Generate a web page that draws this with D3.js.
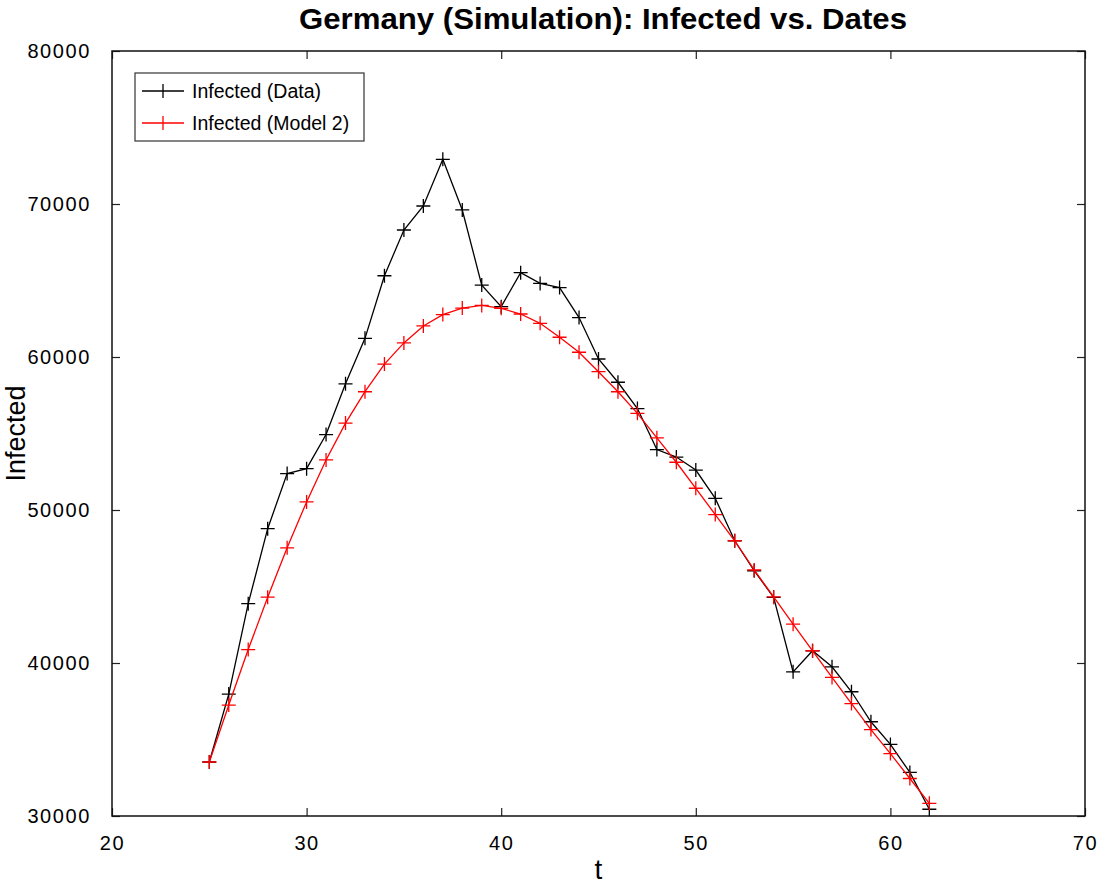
<!DOCTYPE html>
<html>
<head>
<meta charset="utf-8">
<script src="https://cdn.jsdelivr.net/npm/d3@7"></script>
<style>
  body { margin: 0; background: #fff; }
  text { font-family: "Liberation Sans", Arial, sans-serif; }
</style>
</head>
<body>
<div id="chart"></div>
<script>
    // data
    var days = [25, 26, 27, 28, 29, 30, 31, 32, 33, 34, 35, 36, 37, 38, 39, 40, 41, 42, 43,
                44, 45, 46, 47, 48, 49, 50, 51, 52, 53, 54, 55, 56, 57, 58, 59, 60, 61, 62];
    var infectedData = [33530, 37970, 43880, 48780, 52380, 52700, 54930, 58250, 61220, 65310,
                        68300, 69870, 72920, 69610, 64700, 63290, 65510, 64810, 64540, 62580,
                        59870, 58350, 56630, 53950, 53460, 52610, 50760, 47990, 46030, 44290,
                        39420, 40800, 39750, 38120, 36160, 34680, 32850, 30440];
    var infectedModel = [33530, 37250, 40880, 44300, 47530, 50530, 53270, 55680, 57730, 59540,
                         60920, 62030, 62770, 63200, 63370, 63180, 62810, 62200, 61290, 60310,
                         59040, 57730, 56320, 54720, 53120, 51420, 49700, 47990, 46080, 44320,
                         42540, 40800, 39060, 37350, 35650, 34080, 32450, 30830];
    var xTicks = [20, 30, 40, 50, 60, 70];
    var yTicks = [30000, 40000, 50000, 60000, 70000, 80000];

    var W = 1098, H = 886;
    var margin = { top: 51, right: 13, bottom: 70, left: 112 },
        width = W - margin.left - margin.right,
        height = H - margin.top - margin.bottom;

    var svg = d3.select("#chart").append("svg")
        .attr("width", W)
        .attr("height", H);

    var g = svg.append("g")
        .attr("transform", "translate(" + margin.left + "," + margin.top + ")");

    var x = d3.scaleLinear().domain([20, 70]).range([0, width]);
    var y = d3.scaleLinear().domain([30000, 80000]).range([height, 0]);

    // ticks point inward, on all four sides
    var tickLen = 8;
    g.append("g")
        .attr("transform", "translate(0," + height + ")")
        .call(d3.axisBottom(x).tickValues(xTicks).tickSize(-tickLen).tickPadding(tickLen + 12).tickFormat(d3.format("d")))
        .call(function(a) { a.select(".domain").remove(); });
    g.append("g")
        .call(d3.axisTop(x).tickValues(xTicks).tickSize(-tickLen).tickFormat(""))
        .call(function(a) { a.select(".domain").remove(); });
    g.append("g")
        .call(d3.axisLeft(y).tickValues(yTicks).tickSize(-tickLen).tickPadding(tickLen + 13).tickFormat(d3.format("d")))
        .call(function(a) { a.select(".domain").remove(); });
    g.append("g")
        .attr("transform", "translate(" + width + ",0)")
        .call(d3.axisRight(y).tickValues(yTicks).tickSize(-tickLen).tickFormat(""))
        .call(function(a) { a.select(".domain").remove(); });

    g.selectAll(".tick line").attr("stroke", "#222").attr("stroke-width", 1.2);
    g.selectAll(".tick text")
        .style("font-size", "20px")
        .style("letter-spacing", "1.6px")
        .attr("fill", "#000");

    // frame
    g.append("rect")
        .attr("width", width)
        .attr("height", height)
        .attr("fill", "none")
        .attr("stroke", "#111")
        .attr("stroke-width", 1.5);

    var series = [
        { name: "Infected (Data)", values: infectedData, color: "#000000" },
        { name: "Infected (Model 2)", values: infectedModel, color: "#ff0000" }
    ];

    var line = d3.line()
        .x(function(d) { return x(d[0]); })
        .y(function(d) { return y(d[1]); });

    var m = 7; // half size of the + markers
    series.forEach(function(s) {
        var pts = days.map(function(t, i) { return [t, s.values[i]]; });
        g.append("path")
            .datum(pts)
            .attr("d", line)
            .attr("fill", "none")
            .attr("stroke", s.color)
            .attr("stroke-width", 1.3);
        g.selectAll(null)
            .data(pts)
            .enter()
            .append("path")
            .attr("d", function(d) {
                var px = x(d[0]), py = y(d[1]);
                return "M" + (px - m) + "," + py + "H" + (px + m) + "M" + px + "," + (py - m) + "V" + (py + m);
            })
            .attr("stroke", s.color)
            .attr("stroke-width", 1.3);
    });

    // legend
    var legend = svg.append("g");
    legend.append("rect")
        .attr("x", 135).attr("y", 73)
        .attr("width", 229).attr("height", 68)
        .attr("fill", "#fff")
        .attr("stroke", "#333")
        .attr("stroke-width", 1.2);
    series.forEach(function(s, i) {
        var ly = 91 + i * 32;
        legend.append("line")
            .attr("x1", 142).attr("x2", 184)
            .attr("y1", ly).attr("y2", ly)
            .attr("stroke", s.color).attr("stroke-width", 1.3);
        legend.append("line")
            .attr("x1", 163).attr("x2", 163)
            .attr("y1", ly - m).attr("y2", ly + m)
            .attr("stroke", s.color).attr("stroke-width", 1.3);
        legend.append("text")
            .attr("x", 192).attr("y", ly + 7)
            .style("font-size", "19.5px")
            .text(s.name);
    });

    // title and axis labels
    svg.append("text")
        .attr("x", 603).attr("y", 29)
        .attr("text-anchor", "middle")
        .style("font-size", "30px")
        .style("font-weight", "bold")
        .attr("textLength", 608)
        .attr("lengthAdjust", "spacingAndGlyphs")
        .text("Germany (Simulation): Infected vs. Dates");

    svg.append("text")
        .attr("x", margin.left + width / 2).attr("y", 879)
        .attr("text-anchor", "middle")
        .style("font-size", "28px")
        .text("t");

    svg.append("text")
        .attr("transform", "translate(25," + (margin.top + height / 2) + ") rotate(-90)")
        .attr("text-anchor", "middle")
        .style("font-size", "27px")
        .text("Infected");
</script>
</body>
</html>
